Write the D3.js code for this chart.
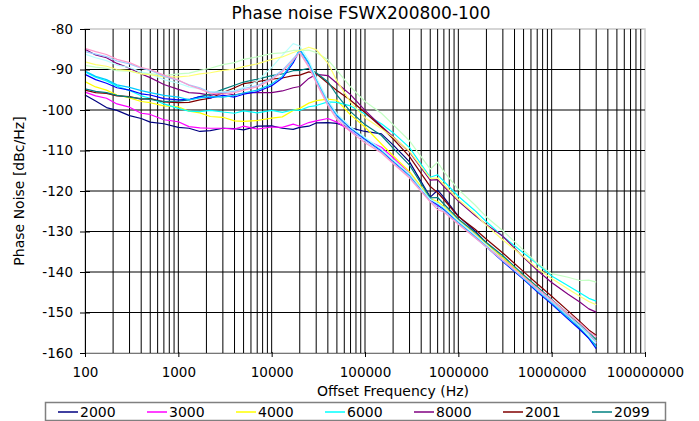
<!DOCTYPE html>
<html><head><meta charset="utf-8">
<script src="https://cdn.jsdelivr.net/npm/d3@7/dist/d3.min.js"></script>
<style>body{margin:0;background:#fff}svg{display:block;font-family:"DejaVu Sans",Verdana,sans-serif}</style>
</head><body>
<svg id="c" width="699" height="421"></svg>
<script>
// ---- data ----
const freqs = [100,130,170,220,300,400,500,700,1000,1300,1700,2200,3000,4000,5000,7000,10000,13000,17000,20000,25000,30000,40000,50000,70000,100000,150000,200000,300000,500000,600000,700000,1000000,1500000,2000000,3000000,5000000,7000000,10000000,15000000,20000000,25000000,30000000];

const s2000 = [-96.3,-97.8,-99.4,-100.1,-101.4,-102.1,-103.0,-103.4,-104.3,-104.5,-105.3,-105.1,-104.5,-104.6,-104.9,-104.0,-103.9,-104.5,-104.8,-104.3,-104.0,-103.2,-103.1,-103.3,-104.4,-105.3,-105.9,-108.6,-112.8,-121.5,-119.8,-121.6,-126.2,-129.8,-132.9,-136.6,-141.2,-144.2,-147.6,-151.2,-153.9,-156.3,-158.3];
const s3000 = [-95.6,-96.5,-97.1,-98.5,-99.3,-100.8,-101.1,-102.4,-102.9,-104.1,-104.4,-104.5,-104.5,-104.7,-104.0,-104.7,-104.2,-104.3,-103.5,-104.0,-103.1,-102.7,-102.1,-103.0,-105.1,-107.3,-109.2,-111.8,-115.6,-122.4,-123.6,-124.3,-127.3,-130.6,-133.2,-136.8,-141.3,-144.1,-147.3,-150.6,-153.3,-155.2,-157.6];
const s4000 = [-93.0,-94.3,-95.1,-96.3,-97.0,-97.9,-98.2,-99.0,-99.2,-100.3,-100.7,-101.6,-101.8,-102.7,-102.8,-102.6,-102.0,-101.7,-100.1,-99.6,-98.3,-97.7,-97.3,-97.6,-101.2,-104.2,-108.4,-111.3,-115.2,-121.9,-122.6,-123.9,-127.1,-130.4,-133.1,-136.5,-141.0,-143.8,-147.0,-150.4,-153.0,-155.2,-157.0];
const s6000 = [-90.6,-91.9,-92.8,-94.1,-95.2,-96.5,-97.1,-98.5,-99.6,-100.3,-100.4,-100.1,-100.5,-100.8,-100.2,-100.7,-100.1,-100.6,-100.0,-100.1,-99.2,-98.9,-98.0,-98.1,-99.0,-101.0,-103.4,-105.6,-109.3,-116.6,-116.0,-117.6,-121.3,-124.8,-127.6,-131.2,-135.3,-138.0,-141.0,-143.4,-145.1,-146.5,-147.2];
const s8000 = [-85.0,-86.4,-87.1,-88.5,-89.7,-91.1,-92.0,-93.7,-94.9,-95.7,-95.9,-96.4,-95.7,-96.3,-95.8,-95.7,-95.7,-95.3,-94.5,-94.2,-92.2,-91.2,-91.5,-93.4,-96.2,-100.1,-104.0,-106.6,-110.4,-117.3,-117.2,-118.9,-122.5,-126.0,-128.3,-131.2,-136.4,-139.6,-142.6,-145.5,-147.4,-149.1,-149.9];
const s2001 = [-95.1,-95.7,-95.9,-96.5,-96.7,-97.3,-97.2,-98.0,-98.2,-98.1,-97.5,-97.1,-95.7,-94.5,-93.5,-93.0,-92.4,-92.1,-91.5,-91.4,-90.6,-91.0,-93.4,-95.2,-97.6,-100.6,-104.2,-107.1,-111.5,-118.9,-120.4,-122.1,-126.3,-129.4,-131.9,-135.3,-139.9,-142.9,-146.0,-149.6,-152.2,-154.3,-155.6];
const s2099 = [-94.8,-95.4,-95.7,-96.4,-96.8,-97.2,-97.4,-97.9,-97.8,-97.5,-96.7,-96.1,-94.9,-93.9,-93.1,-92.4,-91.5,-91.1,-90.3,-90.2,-89.7,-90.8,-93.0,-96.3,-100.4,-103.6,-106.3,-109.4,-113.6,-121.7,-121.6,-123.2,-126.9,-130.1,-132.7,-136.0,-140.7,-143.6,-146.8,-150.3,-152.9,-154.9,-156.7];
const s08 = [-91.2,-92.5,-93.4,-94.5,-95.1,-96.0,-96.3,-97.2,-97.5,-97.4,-96.7,-97.0,-96.4,-96.8,-96.1,-95.5,-94.0,-92.1,-88.4,-85.2,-88.6,-92.8,-98.2,-101.4,-104.6,-107.2,-110.2,-112.8,-116.3,-122.2,-123.4,-124.6,-127.8,-131.3,-133.8,-137.4,-141.8,-144.9,-147.9,-151.6,-154.2,-156.4,-158.9];
const s09 = [-90.4,-91.7,-92.5,-93.8,-94.4,-95.2,-95.7,-96.4,-96.8,-97.5,-97.0,-96.7,-96.8,-96.4,-95.8,-95.1,-93.6,-91.7,-87.9,-85.0,-88.3,-92.4,-97.8,-101.2,-104.3,-107.0,-109.9,-112.4,-116.0,-122.0,-123.2,-124.3,-127.6,-131.0,-133.5,-137.1,-141.6,-144.6,-147.6,-151.3,-153.8,-156.0,-158.4];
const s10 = [-86.2,-87.1,-87.8,-88.9,-89.5,-90.6,-91.1,-92.5,-93.4,-94.3,-94.8,-95.5,-95.5,-95.2,-94.4,-92.9,-89.5,-86.5,-83.6,-84.2,-87.8,-91.9,-97.6,-100.9,-104.2,-106.8,-109.7,-112.3,-115.8,-122.1,-123.0,-124.1,-127.4,-130.8,-133.3,-136.9,-141.4,-144.3,-147.2,-150.9,-153.4,-155.8,-157.6];
const s11 = [-89.0,-89.4,-89.7,-90.3,-90.4,-91.0,-91.0,-91.5,-91.1,-90.9,-90.2,-89.7,-88.8,-88.3,-87.5,-86.9,-86.1,-85.9,-85.3,-85.3,-85.2,-85.8,-87.6,-90.2,-94.3,-97.9,-100.8,-103.6,-107.6,-114.6,-112.9,-115.2,-119.6,-123.4,-126.4,-129.8,-134.6,-137.8,-140.4,-141.3,-142.1,-142.0,-142.5];
const s12 = [-88.1,-88.8,-89.2,-90.0,-90.3,-91.1,-91.3,-91.8,-91.8,-91.6,-91.1,-90.8,-90.2,-89.9,-89.3,-88.6,-87.5,-86.9,-85.8,-85.3,-84.5,-85.1,-88.4,-92.8,-98.1,-101.9,-104.6,-106.7,-110.2,-116.9,-116.8,-118.4,-122.1,-125.6,-128.5,-132.1,-136.2,-139.1,-141.6,-144.2,-146.0,-147.3,-148.1];
const s13 = [-85.6,-86.2,-86.8,-87.9,-88.6,-89.7,-90.2,-91.7,-92.7,-93.8,-94.5,-95.6,-95.7,-95.4,-94.7,-94.0,-92.1,-90.2,-87.3,-85.6,-89.0,-92.9,-98.4,-101.8,-104.9,-107.6,-110.4,-113.0,-116.5,-122.5,-124.0,-124.9,-128.0,-131.4,-133.9,-137.2,-141.5,-144.4,-147.4,-150.8,-153.2,-155.2,-157.2];
const s14 = [-84.8,-85.6,-86.3,-87.5,-88.3,-89.5,-90.0,-91.4,-92.6,-93.9,-94.8,-95.9,-96.1,-95.7,-95.1,-94.3,-92.5,-90.6,-87.7,-85.9,-89.4,-93.3,-98.9,-102.3,-105.4,-108.1,-110.6,-113.2,-116.8,-122.7,-124.6,-125.2,-128.2,-131.5,-133.8,-137.0,-141.2,-144.0,-146.9,-150.3,-152.6,-154.7,-156.0];

const seriesNames = ["2000","3000","4000","6000","8000","2001","2099","S8","S9","S10","S11","S12","S13","S14"];
const seriesValues = [s2000,s3000,s4000,s6000,s8000,s2001,s2099,s08,s09,s10,s11,s12,s13,s14];
const seriesColors = ["#000080","#FF00FF","#FFFF00","#00FFFF","#800080","#800000","#008080","#0000FF","#00CCFF","#B8FFFF","#C4FFC4","#FFFF70","#99CCFF","#FF99CC"];
const legendCount = 7;
const yTicks = [-80,-90,-100,-110,-120,-130,-140,-150,-160];
const xTicks = [100,1000,10000,100000,1000000,10000000,100000000];
const xTickLabels = ["100","1000","10000","100000","1000000","10000000","100000000"];

// ---- drawing ----
const svg = d3.select("#c");
const L = 85, R = 645, T = 29, B = 353;
const x = d3.scaleLog().domain([100,1e8]).range([L,R]);
const y = d3.scaleLinear().domain([-160,-80]).range([B,T]);

// plot border
svg.append("rect").attr("x",L).attr("y",T).attr("width",R-L).attr("height",B-T)
  .attr("fill","none").attr("stroke","#c8c8c8").attr("stroke-width",1.5);

// vertical grid (all 1..9 x decade)
const vgrid = [];
for (let d = 100; d < 1e8; d *= 10) for (let m = 1; m <= 9; m++) { const v = m*d; if (v > 100) vgrid.push(v); }
svg.append("g").selectAll("line").data(vgrid).join("line")
  .attr("x1",d=>x(d)).attr("x2",d=>x(d)).attr("y1",T).attr("y2",B)
  .attr("stroke","#000").attr("stroke-width",1);

// horizontal grid
svg.append("g").selectAll("line").data(yTicks.filter(v=>v>-160 && v<-80)).join("line")
  .attr("x1",L).attr("x2",R).attr("y1",d=>y(d)).attr("y2",d=>y(d))
  .attr("stroke","#000").attr("stroke-width",1);

// series
const line = d3.line().x((d,i)=>x(freqs[i])).y(d=>y(d));
svg.append("g").selectAll("path").data(seriesValues).join("path")
  .attr("d",d=>line(d)).attr("fill","none")
  .attr("stroke",(d,i)=>seriesColors[i]).attr("stroke-width",1.2)
  .attr("stroke-linejoin","round");

// axes
const yAxis = d3.axisLeft(y).tickValues(yTicks).tickSize(0).tickPadding(12).tickFormat(d=>String(d));
const gy = svg.append("g").attr("transform",`translate(${L},0)`).call(yAxis);
gy.select(".domain").attr("stroke","#000");
gy.selectAll(".tick").append("line").attr("x1",-5).attr("x2",5).attr("stroke","#000");
gy.selectAll("text").attr("font-size",13.5).attr("fill","#000").attr("font-family","DejaVu Sans, Verdana, sans-serif");

const xAxis = d3.axisBottom(x).tickValues(xTicks).tickSize(0).tickPadding(14).tickFormat((d,i)=>xTickLabels[i]);
const gx = svg.append("g").attr("transform",`translate(0,${B})`).call(xAxis);
gx.select(".domain").attr("stroke","#777");
gx.selectAll(".tick").append("line").attr("y1",-1).attr("y2",4).attr("stroke","#000");
gx.selectAll("text").attr("font-size",13.5).attr("fill","#000").attr("font-family","DejaVu Sans, Verdana, sans-serif");

// titles
svg.append("text").attr("x",361).attr("y",19).attr("text-anchor","middle")
  .attr("font-size",17).text("Phase noise FSWX200800-100");
svg.append("text").attr("x",393).attr("y",396).attr("text-anchor","middle")
  .attr("font-size",14).text("Offset Frequency (Hz)");
svg.append("text").attr("transform","translate(24,191) rotate(-90)").attr("text-anchor","middle")
  .attr("font-size",14).text("Phase Noise [dBc/Hz]");

// legend
svg.append("rect").attr("x",45.5).attr("y",402.5).attr("width",620).attr("height",18)
  .attr("fill","#fff").attr("stroke","#808080").attr("stroke-width",1.5);
const lg = svg.append("g").selectAll("g").data(d3.range(legendCount)).join("g")
  .attr("transform",i=>`translate(${58 + i*89},412)`);
lg.append("line").attr("x1",0).attr("x2",20).attr("stroke",i=>seriesColors[i]).attr("stroke-width",1.5);
lg.append("text").attr("x",22).attr("y",5).attr("font-size",14).text(i=>seriesNames[i]);
</script>
</body></html>
